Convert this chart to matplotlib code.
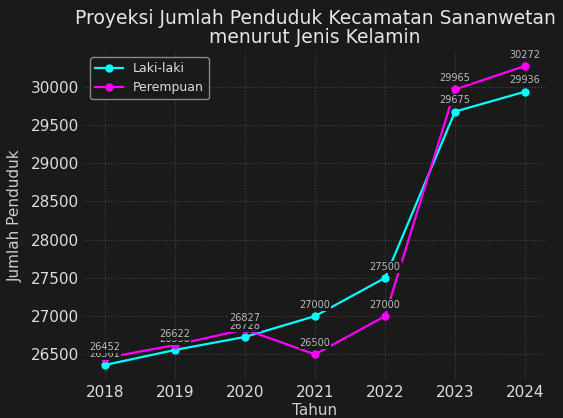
import matplotlib.pyplot as plt

tahun = [2018, 2019, 2020, 2021, 2022, 2023, 2024]
laki_laki = [26361, 26558, 26728, 27000, 27500, 29675, 29936]
perempuan = [26452, 26622, 26827, 26500, 27000, 29965, 30272]

bg = '#1a1a1a'
plt.style.use('dark_background')
fig = plt.figure(figsize=(5.63, 4.18), dpi=100, facecolor=bg)
ax = fig.add_axes([0.149, 0.091, 0.821, 0.787], facecolor=bg)

ax.plot(tahun, laki_laki, marker='o', color='cyan', label='Laki-laki', markersize=5, linewidth=1.6)
ax.plot(tahun, perempuan, marker='o', color='magenta', label='Perempuan', markersize=5, linewidth=1.6)

for serie in (laki_laki, perempuan):
    for x, y in zip(tahun, serie):
        ax.annotate(str(y), (x, y), textcoords='offset points', xytext=(0, 6),
                    ha='center', fontsize=7, color='#bbbbbb',
                    bbox=dict(boxstyle='square,pad=0.1', facecolor=bg, edgecolor='none'))

ax.set_title('Proyeksi Jumlah Penduduk Kecamatan Sananwetan\nmenurut Jenis Kelamin',
             fontsize=13.5, color='#e6e6e6', linespacing=0.95)
ax.set_xlabel('Tahun', fontsize=11, color='#cccccc', labelpad=2)
ax.set_ylabel('Jumlah Penduduk', fontsize=11, color='#cccccc', labelpad=6)
ax.set_xticks(tahun)
ax.tick_params(colors='#dddddd', labelsize=11, length=0)
ax.grid(True, linestyle=':', color='#444444', linewidth=0.8)
for s in ax.spines.values():
    s.set_visible(False)

leg = ax.legend(loc='upper left', fontsize=9, facecolor=bg, edgecolor='#888888', framealpha=1,
                handlelength=2.2)
for t in leg.get_texts():
    t.set_color('#dddddd')

plt.savefig('out.png', dpi=100, facecolor=bg)
